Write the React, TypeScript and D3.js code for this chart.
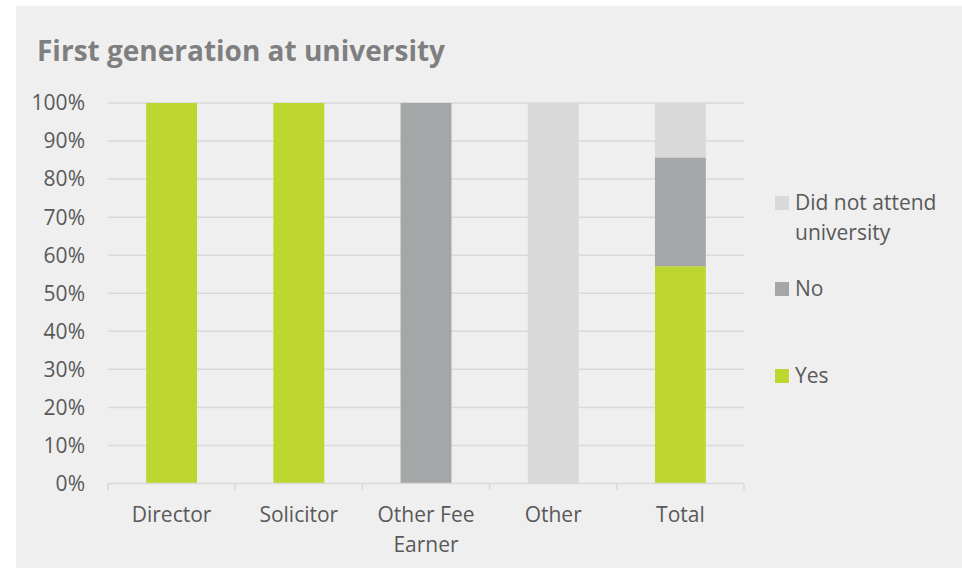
import React from "react";
import * as d3 from "d3";

const categories = ["Director", "Solicitor", "Other Fee Earner", "Other", "Total"];
const categoryLines = [["Director"], ["Solicitor"], ["Other Fee", "Earner"], ["Other"], ["Total"]];
const seriesNames = ["Yes", "No", "Did not attend university"];
const yesValues = [100, 100, 0, 0, 57.1];
const noValues = [0, 0, 100, 0, 28.6];
const didNotAttendValues = [0, 0, 0, 100, 14.3];
const yTicks = [0, 10, 20, 30, 40, 50, 60, 70, 80, 90, 100];
const colors = ["#bed630", "#a5a6a8", "#d9d9d9"];

const W = 962, H = 568;
const plot = { left: 108, right: 744, top: 103, bottom: 483.5 };
const font = "'Open Sans', 'Noto Sans', sans-serif";
const fs = 21;

export default function App() {
  const x = d3.scaleBand<string>().domain(categories).range([plot.left, plot.right]).paddingInner(0.6).paddingOuter(0.3);
  const xOuter = d3.scaleBand<string>().domain(categories).range([plot.left, plot.right]);
  const y = d3.scaleLinear().domain([0, 100]).range([plot.bottom, plot.top]);

  const rows = categories.map((c, i) => ({ cat: c, Yes: yesValues[i], No: noValues[i], Did: didNotAttendValues[i] }));
  const stack = d3.stack<any>().keys(["Yes", "No", "Did"])(rows);

  const legend = [
    { name: seriesNames[2], lines: ["Did not attend", "university"], color: colors[2], y: 203 },
    { name: seriesNames[1], lines: ["No"], color: colors[1], y: 289 },
    { name: seriesNames[0], lines: ["Yes"], color: colors[0], y: 376 },
  ];

  return (
    <svg width={W} height={H} style={{ position: "absolute", left: 0, top: 0 }}>
      <rect x={0} y={0} width={W} height={H} fill="#ffffff" />
      <rect x={16} y={6} width={W - 16} height={H - 6} fill="#efefef" />
      <text x={37} y={61} fontFamily={font} fontWeight={700} fontSize={28} fill="#7f7f7f">
        First generation at university
      </text>
      {yTicks.map((t) => (
        <g key={t}>
          {t > 0 && (
            <line x1={plot.left} x2={plot.right} y1={y(t)} y2={y(t)} stroke="#d9d9d9" strokeWidth={1.5} />
          )}
          <text x={85} y={y(t)} dy="0.35em" textAnchor="end" fontFamily={font} fontSize={fs} fill="#595959">
            {t}%
          </text>
        </g>
      ))}
      {stack.map((s, si) => (
        <g key={si} fill={colors[si]}>
          {s.map((d, i) =>
            d[1] - d[0] > 0 ? (
              <rect key={i} x={x(categories[i])} width={x.bandwidth()} y={y(d[1])} height={y(d[0]) - y(d[1])} />
            ) : null
          )}
        </g>
      ))}
      <line x1={plot.left} x2={plot.right} y1={plot.bottom} y2={plot.bottom} stroke="#d9d9d9" strokeWidth={1.5} />
      {[...categories.map((c) => xOuter(c)!), plot.right].map((v, i) => (
        <line key={i} x1={v} x2={v} y1={plot.bottom} y2={plot.bottom + 7} stroke="#d9d9d9" strokeWidth={1.5} />
      ))}
      {categories.map((c, i) => (
        <text key={c} x={xOuter(c)! + xOuter.bandwidth() / 2} y={522} textAnchor="middle" fontFamily={font} fontSize={fs} fill="#595959">
          {categoryLines[i].map((l, j) => (
            <tspan key={j} x={xOuter(c)! + xOuter.bandwidth() / 2} dy={j === 0 ? 0 : 30}>
              {l}
            </tspan>
          ))}
        </text>
      ))}
      {legend.map((l) => (
        <g key={l.name}>
          <rect x={775} y={l.y - 7} width={14} height={14} fill={l.color} />
          <text x={795} y={l.y} fontFamily={font} fontSize={fs} fill="#595959">
            {l.lines.map((ln, j) => (
              <tspan key={j} x={795} dy={j === 0 ? "0.35em" : 30}>
                {ln}
              </tspan>
            ))}
          </text>
        </g>
      ))}
    </svg>
  );
}
